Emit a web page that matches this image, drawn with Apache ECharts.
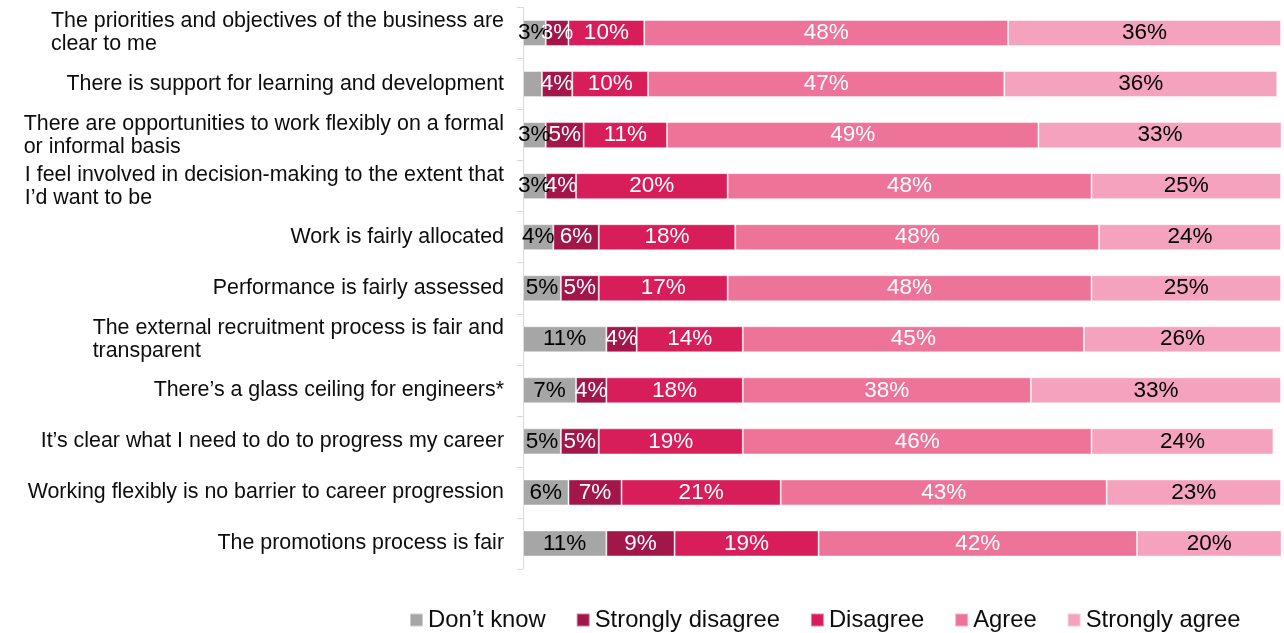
<!DOCTYPE html>
<html>
<head>
<meta charset="utf-8">
<script src="https://cdn.jsdelivr.net/npm/echarts@6/dist/echarts.min.js"></script>
<style>
  html, body { margin: 0; padding: 0; background: #ffffff; }
  #chart { width: 1284px; height: 633px; }
</style>
</head>
<body>
<div id="chart"></div>
<script>
// Survey statements (top to bottom); "\n" marks where a long statement wraps
const statements = [
  'The priorities and objectives of the business are\nclear to me',
  'There is support for learning and development',
  'There are opportunities to work flexibly on a formal\nor informal basis',
  'I feel involved in decision-making to the extent that\nI\u2019d want to be',
  'Work is fairly allocated',
  'Performance is fairly assessed',
  'The external recruitment process is fair and\ntransparent',
  'There\u2019s a glass ceiling for engineers*',
  'It\u2019s clear what I need to do to progress my career',
  'Working flexibly is no barrier to career progression',
  'The promotions process is fair'
];

// Share of responses (%) per statement, one array per answer
const dontKnow         = [3, 2.5, 3, 3, 4, 5, 11, 7, 5, 6, 11];
const stronglyDisagree = [3, 4, 5, 4, 6, 5, 4, 4, 5, 7, 9];
const disagree         = [10, 10, 11, 20, 18, 17, 14, 18, 19, 21, 19];
const agree            = [48, 47, 49, 48, 48, 48, 45, 38, 46, 43, 42];
const stronglyAgree    = [36, 36, 33, 25, 24, 25, 26, 33, 24, 23, 20];

const answerNames = ['Don\u2019t know', 'Strongly disagree', 'Disagree', 'Agree', 'Strongly agree'];
const answerData = [dontKnow, stronglyDisagree, disagree, agree, stronglyAgree];
const answerColors = ['#a6a6a6', '#a3164a', '#d81d5b', '#ee7399', '#f4a2bd'];
const labelColors = ['#000000', '#ffffff', '#ffffff', '#ffffff', '#000000'];

const FONT = 'Liberation Sans, Arial, sans-serif';

const chart = echarts.init(document.getElementById('chart'), null, { renderer: 'canvas' });

const series = answerNames.map((name, i) => ({
  name: name,
  type: 'bar',
  stack: 'total',
  barWidth: '51%',
  data: answerData[i],
  itemStyle: {
    color: answerColors[i],
    borderColor: 'rgba(255,255,255,0.45)',
    borderWidth: 1
  },
  label: {
    show: true,
    position: 'inside',
    color: labelColors[i],
    fontFamily: FONT,
    fontSize: 22.5,
    formatter: p => (p.value >= 3 ? p.value + '%' : '')
  },
  emphasis: { disabled: true }
}));

chart.setOption({
  animation: false,
  backgroundColor: '#ffffff',
  grid: { left: 523, right: 3, top: 7.5, bottom: 64, containLabel: false },
  xAxis: {
    type: 'value',
    min: 0,
    max: 100,
    show: false
  },
  yAxis: {
    type: 'category',
    inverse: true,
    data: statements,
    axisLine: { show: true, lineStyle: { color: '#d9d9d9', width: 1 } },
    axisTick: { show: true, length: 6, lineStyle: { color: '#d9d9d9' } },
    axisLabel: {
      margin: 19,
      align: 'right',
      formatter: v => v.split('\n').map(s => '{t|' + s + '}').join('\n'),
      rich: {
        t: {
          align: 'left',
          fontFamily: FONT,
          fontSize: 21.4,
          lineHeight: 23,
          color: '#0d0d0d'
        }
      }
    }
  },
  legend: {
    top: 603,
    left: 404,
    itemWidth: 13,
    itemHeight: 13,
    itemGap: 30,
    icon: 'rect',
    textStyle: { fontFamily: FONT, fontSize: 23.8, color: '#0d0d0d' },
    data: answerNames
  },
  series: series
});
</script>
</body>
</html>
